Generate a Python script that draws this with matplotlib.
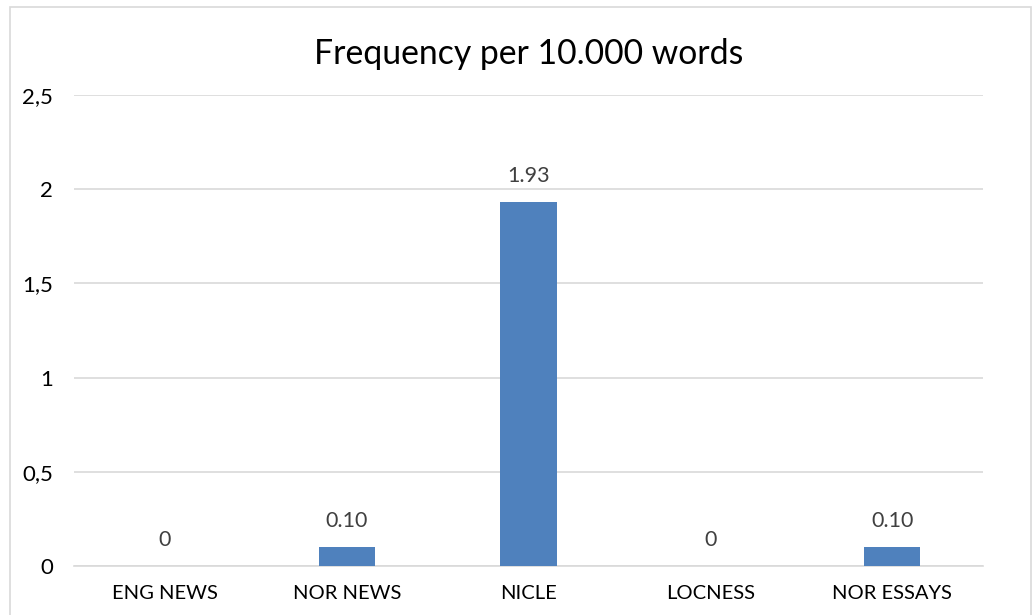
import matplotlib.pyplot as plt
from matplotlib.patches import Rectangle
from matplotlib.ticker import FuncFormatter

plt.rcParams['font.family'] = ['Lato', 'DejaVu Sans']

corpora = ['ENG NEWS', 'NOR NEWS', 'NICLE', 'LOCNESS', 'NOR ESSAYS']
freq = [0, 0.10, 1.93, 0, 0.10]
freq_labels = ['0', '0.10', '1.93', '0', '0.10']

fig = plt.figure(figsize=(10.35, 6.15), dpi=100)
ax = fig.add_axes([74/1035, 1 - 566/615, (983 - 74)/1035, (566 - 95)/615])

x = range(len(corpora))
ax.bar(x, freq, width=0.31, color='#4f81bd', zorder=3)
for xi, v, lab in zip(x, freq, freq_labels):
    ax.text(xi, v + 0.085, lab, ha='center', va='bottom', fontsize=15.5, color='#404040')

ax.set_xlim(-0.5, len(corpora) - 0.5)
ax.set_ylim(0, 2.5)
ax.set_yticks([0, 0.5, 1, 1.5, 2, 2.5])
ax.yaxis.set_major_formatter(FuncFormatter(lambda v, p: f'{v:g}'.replace('.', ',')))
ax.set_xticks(list(x))
ax.set_xticklabels(corpora)
ax.tick_params(axis='both', length=0, colors='#000000')
ax.tick_params(axis='y', pad=15, labelsize=16)
ax.tick_params(axis='x', pad=14, labelsize=14.5)
ax.grid(axis='y', color='#d9d9d9', linewidth=1.2, zorder=0)
for s in ['top', 'right', 'left']:
    ax.spines[s].set_visible(False)
ax.spines['bottom'].set_color('#d9d9d9')
ax.spines['bottom'].set_linewidth(1.2)

fig.text(529/1035, 1 - 54/615, 'Frequency per 10.000 words', ha='center', va='center',
         fontsize=24.3, color='#000000')

# outer chart frame
fig.patches.append(Rectangle((10/1035, -0.05), (1031 - 10)/1035, 1 - 7/615 + 0.05,
                             transform=fig.transFigure, fill=False,
                             edgecolor='#d9d9d9', linewidth=1.2))

fig.savefig('out.png', dpi=100)
